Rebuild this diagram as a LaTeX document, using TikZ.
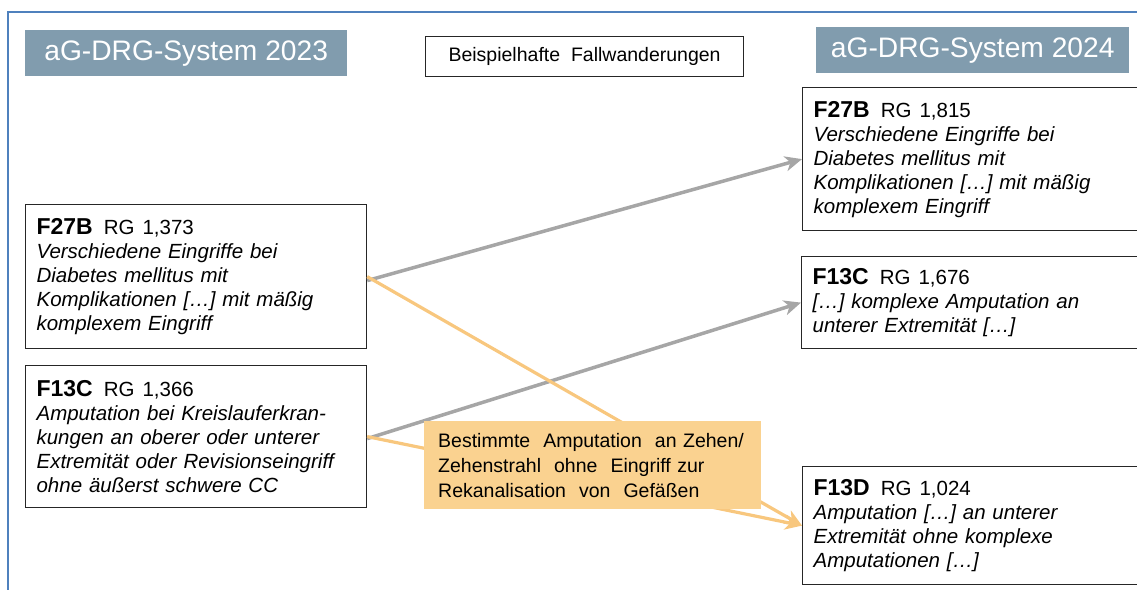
\documentclass[tikz,border=0pt]{standalone}
\usepackage{fontspec}
\setmainfont{Liberation Sans}
\usetikzlibrary{arrows.meta}
\definecolor{frameblue}{HTML}{4F81BD}
\definecolor{headfill}{HTML}{819CAE}
\definecolor{arrgray}{HTML}{A6A6A6}
\definecolor{arrorange}{HTML}{F8C77E}
\definecolor{notefill}{HTML}{FAD290}
\tikzset{
  header/.style={fill=headfill, text=white, font=\fontsize{28.2}{30}\selectfont, inner sep=0pt, anchor=north west},
  drgbox/.style={draw=black!85, line width=1.2pt, fill=white, anchor=north west, align=left, inner xsep=11pt, inner ysep=0pt, font=\fontsize{20.5}{24}\selectfont},
  notebox/.style={fill=notefill, anchor=north west, align=left, inner xsep=14pt, inner ysep=0pt, font=\fontsize{19.5}{25}\selectfont},
  grayarrow/.style={draw=arrgray, line width=3.5pt, -{Stealth[length=17pt,width=15pt,inset=5pt]}},
  orangearrow/.style={draw=arrorange, line width=3.2pt, -{Stealth[length=17pt,width=15pt,inset=5pt]}},
}
\newcommand{\code}[1]{\textbf{\fontsize{23}{24}\selectfont #1}}
\newcommand{\rg}[1]{\hspace{11pt}RG\hspace{8pt}#1}
\begin{document}
\begin{tikzpicture}[x=1pt,y=-1pt]
\useasboundingbox (0,0) rectangle (1137,589);
\clip (0,0) rectangle (1137,589);
% frame
\draw[frameblue, line width=2.5pt] (8,600) -- (8,12) -- (1150,12);
% headers
\node[header, minimum width=322pt, minimum height=46pt] (h23) at (25,30) {aG-DRG-System 2023};
\node[header, minimum width=313pt, minimum height=46pt] (h24) at (816,27) {aG-DRG-System 2024};
\node[draw=black!85, line width=1.2pt, anchor=north west, minimum width=318pt, minimum height=40pt, inner sep=0pt, font=\fontsize{19.5}{22}\selectfont] (bsp) at (425,36) {Beispielhafte\ \ Fallwanderungen};
% left boxes
\node[drgbox, text width=319pt, minimum height=144pt] (l27) at (25,204) {\code{F27B}\rg{1,373}\\
\textit{Verschiedene Eingriffe bei}\\
\textit{Diabetes mellitus mit}\\
\textit{Komplikationen [\dots] mit mäßig}\\
\textit{komplexem Eingriff}};
\node[drgbox, text width=319pt, minimum height=142pt] (l13) at (25,365) {\code{F13C}\rg{1,366}\\
\textit{Amputation bei Kreislauferkran-}\\
\textit{kungen an oberer oder unterer}\\
\textit{Extremität oder Revisionseingriff}\\
\textit{ohne äußerst schwere CC}};
% right boxes
\node[drgbox, text width=330pt, minimum height=143pt] (r27) at (802,87) {\code{F27B}\rg{1,815}\\
\textit{Verschiedene Eingriffe bei}\\
\textit{Diabetes mellitus mit}\\
\textit{Komplikationen [\dots] mit mäßig}\\
\textit{komplexem Eingriff}};
\node[drgbox, text width=330pt, minimum height=92pt] (r13) at (801,256) {\code{F13C}\rg{1,676}\\
\textit{[\dots] komplexe Amputation an}\\
\textit{unterer Extremität [\dots]}};
\node[drgbox, text width=330pt, minimum height=118pt] (r13d) at (802,466) {\code{F13D}\rg{1,024}\\
\textit{Amputation [\dots] an unterer}\\
\textit{Extremität ohne komplexe}\\
\textit{Amputationen [\dots]}};
% connectors
\draw[grayarrow] ([yshift=-4pt]l27.east) -- (r27.west);
\draw[grayarrow] ([yshift=-2pt]l13.east) -- (r13.west);
\draw[orangearrow] (l27.east) -- (r13d.west);
\draw[orangearrow] (l13.east) -- (r13d.west);
% note
\node[notebox, text width=309pt, minimum height=88pt] (note) at (424,421) {Bestimmte\ \ Amputation\ \ an Zehen/\\
Zehenstrahl\ \ ohne\ \ Eingriff zur\\
Rekanalisation\ \ von\ \ Gefäßen};
\end{tikzpicture}
\end{document}
